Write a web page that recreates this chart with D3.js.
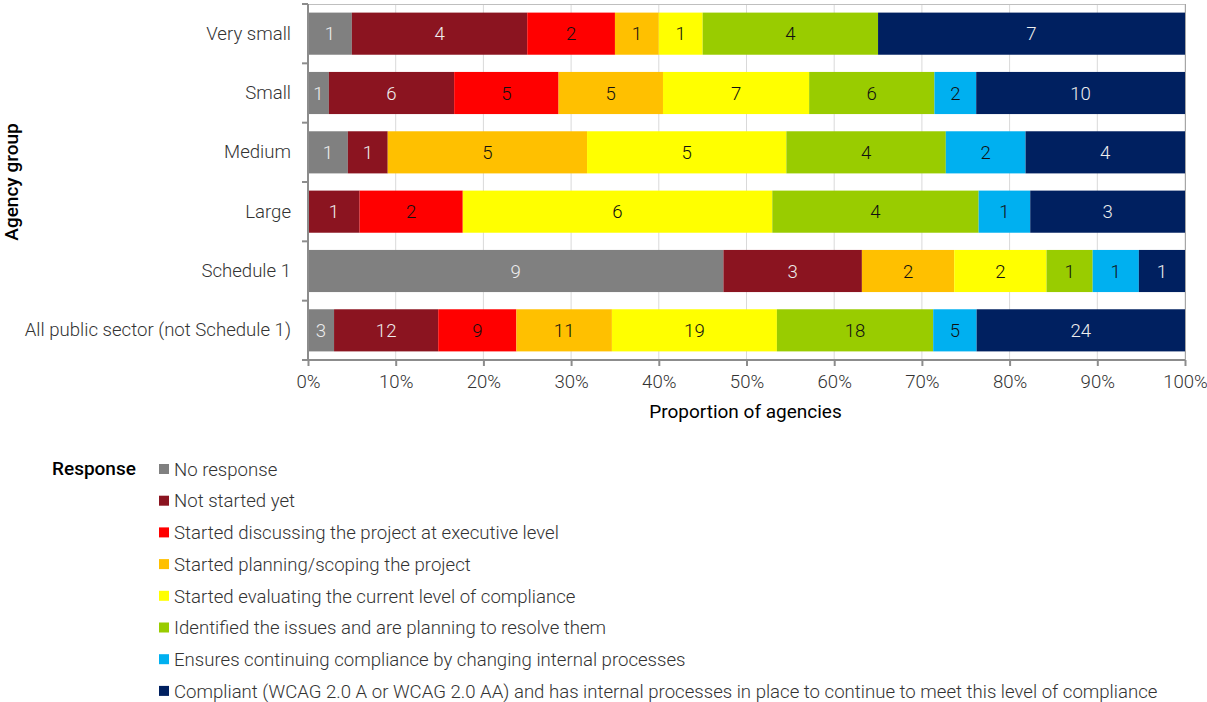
<!DOCTYPE html>
<html><head><meta charset="utf-8">
<script src="https://cdn.jsdelivr.net/npm/d3@7"></script>
<style>
body{margin:0;background:#fff;}
svg text{font-family:Roboto,"Liberation Sans",sans-serif;}
</style></head>
<body><svg id="c" width="1207" height="702"></svg>
<script>
const categories = ["Very small","Small","Medium","Large","Schedule 1","All public sector (not Schedule 1)"];
const responses = ["No response","Not started yet","Started discussing the project at executive level","Started planning/scoping the project","Started evaluating the current level of compliance","Identified the issues and are planning to resolve them","Ensures continuing compliance by changing internal processes","Compliant (WCAG 2.0 A or WCAG 2.0 AA) and has internal processes in place to continue to meet this level of compliance"];
const noResponse    = [1,1,1,0,9,3];
const notStarted    = [4,6,1,1,3,12];
const discussing    = [2,5,0,2,0,9];
const planning      = [1,5,5,0,2,11];
const evaluating    = [1,7,5,6,2,19];
const identified    = [4,6,4,4,1,18];
const ensures       = [0,2,2,1,1,5];
const compliant     = [7,10,4,3,1,24];
const tickLabels = ["0%","10%","20%","30%","40%","50%","60%","70%","80%","90%","100%"];
const colors = ["#808080","#8B1420","#FF0000","#FFC000","#FFFF00","#99CC00","#00B0F0","#002060"];
const labelColors = ["#eeeeee","#eeeeee","#111","#111","#111","#111","#111","#eeeeee"];

const series = [noResponse,notStarted,discussing,planning,evaluating,identified,ensures,compliant];
const svg = d3.select("#c");
const L=308,R=1185,T=4,B=360;
const FS=18.6, FW=300;
const x = d3.scaleLinear().domain([0,1]).range([L,R]);
const y = d3.scaleBand().domain(categories).range([T,B]).paddingInner(0.29).paddingOuter(0.145);

svg.append("g").selectAll("line").data(d3.range(1,11).map(i=>i/10)).join("line")
  .attr("x1",d=>x(d)).attr("x2",d=>x(d)).attr("y1",T).attr("y2",B)
  .attr("stroke","#d9d9d9").attr("stroke-width",1);
svg.append("line").attr("x1",L).attr("x2",R).attr("y1",T+0.5).attr("y2",T+0.5).attr("stroke","#bfbfbf");
svg.append("line").attr("x1",R+0.5).attr("x2",R+0.5).attr("y1",T).attr("y2",B).attr("stroke","#a6a6a6");

const rows = categories.map((c,i)=>{
  const tot = d3.sum(series,s=>s[i]);
  let acc=0;
  return series.map((s,k)=>{const v=s[i];const x0=acc/tot;acc+=v;return {c,k,v,x0,x1:acc/tot};});
});
const segs = rows.flat().filter(d=>d.v>0);
svg.append("g").selectAll("rect").data(segs).join("rect")
  .attr("x",d=>x(d.x0)).attr("width",d=>x(d.x1)-x(d.x0))
  .attr("y",d=>y(d.c)).attr("height",y.bandwidth())
  .attr("fill",d=>colors[d.k]);
svg.append("g").selectAll("text").data(segs).join("text")
  .attr("x",d=>(x(d.x0)+x(d.x1))/2).attr("y",d=>y(d.c)+y.bandwidth()/2)
  .attr("dy","0.36em").attr("text-anchor","middle")
  .attr("font-size",FS).attr("font-weight",FW)
  .attr("fill",d=>labelColors[d.k]).text(d=>d.v);

const xa = svg.append("g").attr("transform",`translate(0,${B})`)
  .call(d3.axisBottom(x).tickValues(d3.range(0,11).map(i=>i/10)).tickFormat((d,i)=>tickLabels[i]).tickSize(6).tickPadding(9));
xa.select(".domain").attr("stroke","#8c8c8c").attr("stroke-width",2).attr("d",`M${L},0H${R}`);
xa.selectAll(".tick line").attr("stroke","#8c8c8c").attr("stroke-width",2);
xa.selectAll("text").attr("font-size",FS).attr("font-weight",FW).attr("fill","#333").attr("font-family",null);

const ya = svg.append("g").attr("transform",`translate(${L},0)`)
  .call(d3.axisLeft(y).tickSize(0).tickPadding(17));
ya.select(".domain").attr("stroke","#8c8c8c").attr("stroke-width",2).attr("d",`M0,${T}V${B}`);
ya.selectAll("text").attr("font-size",FS).attr("font-weight",FW).attr("fill","#333").attr("font-family",null);
svg.append("g").selectAll("line").data(d3.range(0,7)).join("line")
  .attr("x1",L-6).attr("x2",L).attr("y1",i=>T+i*(B-T)/6).attr("y2",i=>T+i*(B-T)/6)
  .attr("stroke","#8c8c8c").attr("stroke-width",2);

svg.append("text").attr("x",(L+R)/2-1).attr("y",418).attr("text-anchor","middle")
  .attr("font-size",19).attr("font-weight",400).attr("fill","#000").text("Proportion of agencies");
svg.append("text").attr("transform",`translate(18,182) rotate(-90)`).attr("text-anchor","middle")
  .attr("font-size",19).attr("font-weight",500).attr("fill","#000").text("Agency group");

svg.append("text").attr("x",52).attr("y",475).attr("font-size",19).attr("font-weight",500).attr("fill","#000").text("Response");
const lg = svg.append("g").selectAll("g").data(responses).join("g")
  .attr("transform",(d,i)=>`translate(159,${469+i*31.7})`);
lg.append("rect").attr("x",0).attr("y",-5).attr("width",10).attr("height",10).attr("fill",(d,i)=>colors[i]);
lg.append("text").attr("x",15).attr("y",0).attr("dy","0.36em").attr("font-size",FS).attr("font-weight",FW).attr("fill","#333").text(d=>d);
</script></body></html>
